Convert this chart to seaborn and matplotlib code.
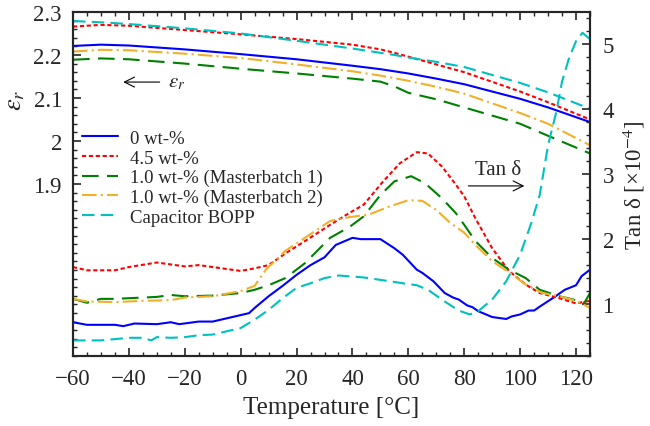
import numpy as np
import seaborn as sns
import matplotlib.pyplot as plt
from matplotlib.ticker import MultipleLocator, FormatStrFormatter

# temperature grid for the permittivity curves
temp_er = [-60, -50, -40, -20, 0, 20, 40, 50, 55, 60, 70, 80, 100, 110, 125]

er_0 = [2.221, 2.224, 2.222, 2.213, 2.202, 2.190, 2.175, 2.167, 2.162, 2.157, 2.145, 2.132, 2.098, 2.078, 2.044]
er_45 = [2.266, 2.270, 2.268, 2.258, 2.248, 2.237, 2.224, 2.213, 2.205, 2.196, 2.178, 2.160, 2.115, 2.090, 2.050]
er_mb1 = [2.189, 2.192, 2.190, 2.180, 2.168, 2.157, 2.145, 2.138, 2.127, 2.112, 2.097, 2.078, 2.040, 2.012, 1.971]
er_mb2 = [2.208, 2.212, 2.211, 2.203, 2.193, 2.178, 2.162, 2.152, 2.146, 2.140, 2.126, 2.110, 2.065, 2.040, 1.990]
er_bopp = [2.279, 2.276, 2.272, 2.262, 2.250, 2.233, 2.215, 2.205, 2.200, 2.194, 2.184, 2.172, 2.135, 2.113, 2.075]

# loss tangent curves (x1e-4)
temp_t0 = [-60, -55, -45, -42, -38, -30, -25, -22, -15, -10, -5, 0, 3, 5, 10, 15, 20, 25, 30, 34, 40, 43,
           50, 55, 58, 63, 65, 69, 73, 76, 78, 81, 83, 85, 90, 95, 97, 100, 103, 105, 107, 112, 116, 120, 122, 125]
tan_0 = [0.72, 0.68, 0.68, 0.66, 0.70, 0.69, 0.72, 0.69, 0.73, 0.73, 0.78, 0.83, 0.86, 0.94, 1.12, 1.28, 1.45,
         1.60, 1.72, 1.91, 2.02, 2.00, 2.00, 1.86, 1.76, 1.53, 1.48, 1.35, 1.17, 1.10, 1.07, 0.98, 0.95, 0.89,
         0.80, 0.77, 0.81, 0.84, 0.90, 0.90, 0.96, 1.10, 1.22, 1.29, 1.43, 1.53]

temp_t45 = [-60, -55, -45, -40, -30, -20, -15, -10, 0, 5, 10, 16, 23, 32, 38, 44, 51, 57, 63, 67, 72, 77,
            80, 84, 90, 96, 102, 107, 114, 120, 125]
tan_45 = [1.57, 1.52, 1.52, 1.57, 1.64, 1.58, 1.60, 1.57, 1.51, 1.55, 1.60, 1.78, 1.97, 2.22, 2.38, 2.53,
          2.89, 3.17, 3.34, 3.32, 3.12, 2.84, 2.66, 2.32, 1.86, 1.51, 1.30, 1.17, 1.09, 1.01, 1.05]

temp_tmb1 = [-60, -55, -50, -45, -30, -25, -20, -10, 0, 5, 10, 16, 23, 32, 39, 44, 50, 55, 61, 66, 72, 77,
             80, 84, 90, 96, 102, 107, 114, 119, 123, 125]
tan_mb1 = [1.08, 1.02, 1.08, 1.08, 1.11, 1.14, 1.12, 1.13, 1.17, 1.22, 1.29, 1.40, 1.63, 2.02, 2.19, 2.35,
           2.68, 2.89, 2.97, 2.86, 2.63, 2.40, 2.22, 1.97, 1.71, 1.53, 1.40, 1.22, 1.12, 1.07, 1.02, 1.17]

temp_tmb2 = [-60, -55, -45, -35, -25, -20, -10, 0, 5, 9, 16, 23, 32, 39, 46, 53, 60, 65, 70, 75, 80, 84,
             90, 96, 102, 108, 114, 120, 125]
tan_mb2 = [1.08, 1.04, 1.03, 1.05, 1.06, 1.10, 1.12, 1.20, 1.28, 1.53, 1.82, 2.02, 2.28, 2.34, 2.38, 2.50,
           2.60, 2.59, 2.45, 2.25, 2.10, 1.91, 1.66, 1.49, 1.30, 1.17, 1.12, 1.05, 0.94]

temp_tbopp = [-60, -50, -45, -40, -35, -32, -30, -25, -20, -15, -10, -5, 0, 5, 10, 15, 20, 25, 30, 35, 44,
              52, 58, 63, 67, 73, 78, 82, 85, 90, 95, 100, 104, 107, 110, 113, 115, 117.5, 120, 122.3, 125]
tan_bopp = [0.44, 0.44, 0.46, 0.48, 0.48, 0.44, 0.49, 0.48, 0.49, 0.52, 0.53, 0.58, 0.63, 0.76, 0.91, 1.09,
            1.25, 1.32, 1.40, 1.44, 1.41, 1.36, 1.32, 1.29, 1.22, 1.04, 0.90, 0.84, 0.89, 1.07, 1.35, 1.76,
            2.25, 2.68, 3.45, 3.97, 4.43, 4.79, 5.05, 5.18, 5.08]

labels = ['0 wt-%', '4.5 wt-%', '1.0 wt-% (Masterbatch 1)', '1.0 wt-% (Masterbatch 2)', 'Capacitor BOPP']
colors = ['#0000ff', '#ff0000', '#008000', '#f2b02a', '#00c0c0']
styles = ['-', (0, (2, 1.3)), (0, (8, 4)), (0, (7, 2, 1, 2)), (0, (6, 3))]

sns.set_style('ticks')
plt.rcParams['font.family'] = ['Liberation Serif', 'DejaVu Serif']
plt.rcParams['mathtext.fontset'] = 'stix'
plt.rcParams['xtick.direction'] = 'in'
plt.rcParams['ytick.direction'] = 'in'

fig = plt.figure(figsize=(6.5, 4.27), dpi=100)
ax = fig.add_axes([0.1123, 0.164, 0.7954, 0.8056])
ax2 = ax.twinx()

er_data = [er_0, er_45, er_mb1, er_mb2, er_bopp]
tan_data = [(temp_t0, tan_0), (temp_t45, tan_45), (temp_tmb1, tan_mb1),
            (temp_tmb2, tan_mb2), (temp_tbopp, tan_bopp)]

handles = []
for i in range(5):
    sns.lineplot(x=temp_er, y=er_data[i], ax=ax, color=colors[i], linestyle=styles[i], lw=1.5)
    handles.append(ax.lines[-1])
    tx, ty = tan_data[i]
    sns.lineplot(x=tx, y=ty, ax=ax2, color=colors[i], linestyle=styles[i], lw=1.5)

ax.set_xlim(-60, 125)
ax.set_ylim(1.5, 2.3)
ax2.set_ylim(0.2, 5.5)

ax.set_yticks([1.9, 2.0, 2.1, 2.2, 2.3])
ax.yaxis.set_major_formatter(FormatStrFormatter('%g'))
ax.yaxis.set_minor_locator(MultipleLocator(0.02))
ax.xaxis.set_major_locator(MultipleLocator(20))
ax.xaxis.set_minor_locator(MultipleLocator(5))
ax2.yaxis.set_major_locator(MultipleLocator(1))
ax2.yaxis.set_minor_locator(MultipleLocator(0.2))

ax.tick_params(axis='x', which='both', top=True)
ax.tick_params(axis='x', which='major', pad=9)
ax.tick_params(axis='y', which='major', pad=8)
ax.tick_params(which='major', length=6, width=1.2, labelsize=16.5)
ax.tick_params(which='minor', length=3, width=1)
ax2.tick_params(which='major', length=6, width=1.2, labelsize=16.5, pad=9)
ax2.tick_params(which='minor', length=3, width=1)
for a in (ax, ax2):
    for s in a.spines.values():
        s.set_linewidth(1.5)

ax.set_xlabel('Temperature [°C]', fontsize=18, labelpad=5)
ax.set_ylabel(r'$\varepsilon_r$', fontsize=19)
ax.yaxis.set_label_coords(-0.088, 0.745)
ax2.set_ylabel(r'Tan δ [×10$^{-4}$]', fontsize=16.5, labelpad=5)

ax.legend(handles, labels, loc='upper left', bbox_to_anchor=(0.003, 0.679), frameon=False,
          fontsize=13.5, handlelength=1.9, handletextpad=0.64, labelspacing=0.13, borderaxespad=0)

ax.annotate('', xy=(-43, 2.137), xytext=(-28, 2.137),
            arrowprops=dict(arrowstyle='->', color='k', lw=0.8, mutation_scale=18))
ax.text(-26, 2.137, r'$\varepsilon_r$', fontsize=15, ha='left', va='center')
ax2.annotate('', xy=(102.5, 2.82), xytext=(80.5, 2.82),
             arrowprops=dict(arrowstyle='->', color='k', lw=0.8, mutation_scale=18))
ax2.text(92, 3.08, 'Tan δ', fontsize=15, ha='center', va='center')

plt.savefig('out.png', dpi=100)
